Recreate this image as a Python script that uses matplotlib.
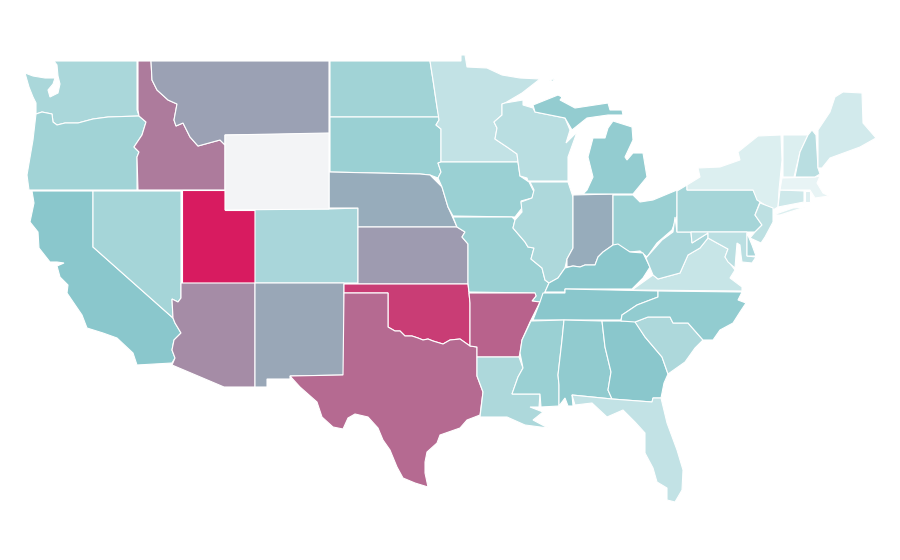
import numpy as np
import matplotlib
matplotlib.use('Agg')
import matplotlib.pyplot as plt
from matplotlib.colors import LinearSegmentedColormap, Normalize
from matplotlib.patches import Polygon

# state values, nan = no data
states = ['WA', 'OR', 'CA', 'NV', 'ID', 'MT', 'UT', 'AZ', 'CO', 'NM',
          'ND', 'SD', 'NE', 'KS', 'OK', 'TX', 'MN', 'IA', 'MO', 'AR',
          'LA', 'WI', 'IL', 'IN', 'MI', 'OH', 'KY', 'TN', 'MS', 'AL',
          'GA', 'FL', 'SC', 'NC', 'VA', 'WV', 'PA', 'NY', 'NJ', 'MD',
          'DE', 'CT', 'RI', 'MA', 'VT', 'NH', 'ME', 'WY']
values = [34, 39, 50, 37, 72, 61, 100, 67.5, 35, 59.5,
          39, 42, 58, 63, 90, 77, 23, 42, 42, 79.5,
          33, 27, 33, 58, 45.5, 42, 50, 50, 42, 46.5,
          50, 23, 33, 46, 20, 35, 37, 10, 25, 26,
          35, 16.5, 9, 4, 10, 27, 14.5, np.nan]

# outlines in picture pixels (map projection already applied)
outlines = {
    'WA': [[(54, 61), (137, 61), (137, 110), (139, 116), (108, 117), (93, 119), (78, 123), (65, 123), (57, 125),
            (53, 122), (52, 114), (42, 112), (36, 114), (36, 103), (33, 97), (29, 87), (25, 73), (33, 76), (45, 78),
            (55, 78), (53, 84), (48, 90), (50, 97), (58, 93), (60, 84), (58, 76), (57, 65)]],
    'OR': [[(36, 114), (42, 112), (52, 114), (53, 122), (57, 125), (65, 123), (78, 123), (93, 119), (108, 117),
            (139, 116), (146, 122), (142, 135), (134, 147), (139, 152), (137, 157), (137, 190), (29, 190), (27, 175),
            (33, 140)]],
    'CA': [[(32, 191), (93, 191), (93, 247), (173, 318), (175, 323), (181, 333), (174, 340), (172, 350), (175, 358),
            (172, 363), (137, 365), (133, 353), (117, 338), (103, 333), (87, 328), (82, 315), (67, 293), (68, 285),
            (60, 277), (57, 266), (64, 263), (57, 262), (50, 262), (39, 248), (38, 232), (30, 222), (34, 203)]],
    'NV': [[(93, 191), (181, 191), (181, 298), (178, 302), (172, 299), (173, 318), (93, 247)]],
    'ID': [[(138, 61), (151, 61), (152, 80), (157, 90), (168, 100), (177, 104), (174, 120), (176, 126), (183, 123),
            (190, 137), (198, 146), (220, 140), (225, 145), (225, 190), (138, 190), (137, 157), (139, 152), (134, 147),
            (142, 135), (146, 122), (139, 116), (138, 110)]],
    'MT': [[(151, 61), (329, 61), (329, 134), (225, 135), (225, 145), (220, 140), (198, 146), (190, 137), (183, 123),
            (176, 126), (174, 120), (177, 104), (168, 100), (157, 90), (152, 80)]],
    'UT': [[(182, 190), (225, 190), (225, 210), (255, 210), (255, 283), (182, 283)]],
    'AZ': [[(181, 283), (255, 283), (255, 387), (224, 387), (172, 365), (175, 358), (172, 350), (174, 340), (181, 333),
            (175, 323), (173, 318), (172, 299), (178, 302), (181, 298)]],
    'CO': [[(255, 209), (329, 209), (358, 208), (358, 283), (255, 283)]],
    'NM': [[(255, 283), (344, 283), (344, 375), (290, 376), (290, 379), (267, 379), (267, 387), (255, 387)]],
    'ND': [[(330, 61), (430, 61), (433, 80), (437, 107), (439, 117), (330, 117)]],
    'SD': [[(330, 117), (439, 117), (439, 120), (436, 125), (441, 129), (441, 162), (438, 163), (441, 172), (438, 178),
            (430, 175), (420, 174), (330, 172)]],
    'NE': [[(329, 172), (420, 174), (430, 175), (442, 187), (448, 207), (457, 227), (358, 227), (358, 208),
            (329, 208)]],
    'KS': [[(358, 227), (457, 227), (465, 232), (462, 237), (468, 244), (468, 284), (358, 284)]],
    'OK': [[(344, 284), (468, 284), (469, 293), (470, 303), (470, 346), (460, 339), (450, 340), (443, 344), (433, 341),
            (428, 339), (423, 340), (418, 338), (412, 336), (405, 336), (400, 331), (395, 331), (388, 327), (388, 293),
            (344, 293)]],
    'TX': [[(344, 293), (388, 293), (388, 327), (395, 331), (400, 331), (405, 336), (412, 336), (418, 338), (423, 340),
            (428, 339), (433, 341), (443, 344), (450, 340), (460, 339), (470, 346), (477, 347), (477, 376), (483, 392),
            (480, 415), (467, 420), (460, 428), (440, 435), (437, 443), (427, 452), (425, 462), (425, 473), (428, 487),
            (415, 483), (403, 478), (397, 467), (390, 450), (383, 440), (378, 428), (368, 417), (355, 414), (348, 418),
            (343, 429), (333, 427), (322, 417), (317, 402), (300, 387), (290, 376), (343, 375)]],
    'MN': [[(430, 61), (461, 61), (461, 55), (465, 55), (467, 67), (487, 68), (502, 75), (520, 78), (540, 79), (522, 93),
            (505, 103), (502, 104), (502, 115), (494, 122), (497, 128), (495, 139), (507, 147), (517, 154), (518, 162),
            (441, 162), (441, 129), (436, 125), (439, 120), (437, 107), (433, 80)]],
    'IA': [[(441, 162), (518, 162), (520, 176), (529, 182), (534, 192), (532, 198), (521, 201), (522, 208), (515, 217),
            (453, 216), (448, 207), (442, 187), (438, 178), (441, 172), (438, 163)]],
    'MO': [[(453, 217), (512, 217), (515, 220), (513, 228), (525, 242), (528, 247), (534, 248), (531, 259), (542, 268),
            (545, 280), (549, 283), (545, 292), (540, 302), (532, 301), (536, 296), (535, 293), (469, 292), (468, 283),
            (468, 244), (462, 237), (465, 232), (457, 227)]],
    'AR': [[(469, 293), (535, 293), (536, 296), (532, 301), (540, 302), (530, 322), (522, 340), (520, 353), (519, 357),
            (477, 357), (477, 347), (470, 346), (470, 303)]],
    'LA': [[(477, 357), (519, 357), (523, 368), (518, 377), (512, 394), (540, 394), (539, 407), (530, 407), (543, 412),
            (533, 420), (548, 428), (525, 425), (507, 417), (490, 417), (480, 417), (483, 392), (477, 376)]],
    'WI': [[(505, 103), (523, 100), (523, 105), (533, 108), (535, 112), (565, 118), (570, 130), (566, 143), (577, 132),
            (568, 157), (568, 181), (528, 181), (527, 178), (520, 176), (518, 162), (517, 154), (507, 147), (495, 139),
            (497, 128), (494, 122), (502, 115), (502, 104)]],
    'IL': [[(530, 182), (568, 182), (573, 197), (573, 248), (567, 259), (565, 268), (558, 278), (549, 283), (545, 280),
            (542, 268), (531, 259), (534, 248), (528, 247), (525, 242), (513, 228), (515, 220), (522, 212), (521, 202),
            (532, 198), (534, 190)]],
    'IN': [[(573, 195), (613, 194), (613, 245), (603, 252), (598, 257), (595, 265), (585, 265), (580, 267), (573, 266),
            (567, 267), (567, 259), (573, 248)]],
    'MI': [[(583, 194), (633, 194), (647, 177), (643, 153), (633, 153), (627, 160), (625, 157), (633, 140), (632, 127),
            (613, 121), (608, 128), (605, 138), (593, 138), (588, 157), (593, 177), (587, 190)],
           [(533, 105), (558, 95), (562, 97), (568, 90), (560, 100), (575, 108), (608, 103), (610, 110), (622, 110),
            (623, 115), (608, 115), (587, 118), (572, 130), (565, 118), (535, 112)],
           [(549, 81), (555, 78), (553, 81)]],
    'OH': [[(613, 195), (633, 195), (640, 202), (653, 200), (677, 190), (677, 216), (672, 230), (657, 243), (647, 257),
            (640, 251), (630, 252), (613, 245)]],
    'KY': [[(549, 283), (558, 278), (565, 268), (573, 266), (580, 267), (585, 265), (595, 265), (598, 257), (603, 252),
            (613, 245), (618, 244), (630, 252), (643, 253), (650, 267), (643, 278), (632, 289), (565, 289), (565, 292),
            (545, 292)]],
    'TN': [[(543, 293), (565, 293), (565, 289), (658, 291), (658, 297), (637, 305), (622, 315), (621, 320), (533, 320),
            (540, 302)]],
    'MS': [[(531, 321), (564, 320), (562, 340), (558, 375), (559, 385), (559, 406), (541, 407), (540, 394), (512, 394),
            (518, 377), (523, 368), (520, 353), (522, 340)]],
    'AL': [[(564, 320), (602, 321), (605, 347), (611, 372), (608, 390), (612, 399), (572, 395), (573, 406), (568, 406),
            (565, 398), (559, 406), (559, 385), (558, 375), (562, 340)]],
    'GA': [[(602, 321), (635, 321), (645, 337), (662, 357), (668, 374), (664, 383), (661, 398), (653, 398), (652, 402),
            (612, 399), (608, 390), (611, 372), (605, 347)]],
    'FL': [[(572, 395), (612, 399), (652, 402), (653, 398), (661, 398), (667, 423), (677, 450), (683, 470), (682, 490),
            (675, 502), (667, 500), (667, 488), (657, 482), (653, 468), (645, 453), (645, 433), (635, 422), (623, 410),
            (607, 417), (592, 403), (575, 405)]],
    'SC': [[(635, 322), (648, 317), (670, 317), (673, 323), (688, 323), (703, 340), (695, 348), (685, 362), (668, 374),
            (662, 357), (645, 337)]],
    'NC': [[(658, 291), (742, 292), (738, 300), (746, 303), (740, 312), (733, 323), (720, 330), (713, 340), (703, 340),
            (688, 323), (673, 323), (670, 317), (648, 317), (635, 322), (621, 321), (622, 315), (637, 305), (658, 297)]],
    'VA': [[(632, 290), (653, 275), (658, 279), (680, 273), (688, 255), (700, 248), (708, 238), (717, 243), (728, 249),
            (725, 257), (735, 270), (730, 278), (742, 287), (742, 291)]],
    'WV': [[(675, 217), (677, 232), (691, 232), (692, 243), (708, 233), (708, 238), (700, 248), (688, 255), (680, 273),
            (658, 279), (653, 275), (646, 258), (662, 240), (673, 232)]],
    'PA': [[(677, 191), (687, 185), (687, 190), (753, 190), (760, 202), (755, 215), (762, 225), (755, 232), (677, 232)]],
    'NY': [[(687, 185), (700, 177), (698, 168), (720, 167), (740, 160), (738, 152), (758, 136), (781, 135), (782, 160),
            (779, 190), (778, 207), (773, 210), (757, 200), (753, 190), (687, 190)],
           [(773, 215), (793, 208), (805, 207), (780, 215)]],
    'NJ': [[(760, 203), (773, 208), (773, 222), (765, 237), (761, 243), (750, 238), (755, 232), (762, 225), (755, 215)]],
    'MD': [[(691, 232), (747, 232), (747, 256), (756, 257), (752, 263), (742, 262), (741, 255), (740, 245), (737, 243),
            (736, 255), (735, 268), (728, 262), (725, 257), (728, 249), (717, 243), (708, 238), (708, 233), (692, 243)]],
    'DE': [[(747, 233), (752, 245), (756, 256), (747, 256)]],
    'CT': [[(780, 190), (804, 191), (804, 202), (778, 207)]],
    'RI': [[(805, 191), (810, 191), (810, 202), (805, 202)]],
    'MA': [[(782, 178), (815, 177), (820, 176), (817, 183), (823, 193), (829, 196), (815, 198), (810, 190), (780, 190)]],
    'VT': [[(783, 135), (808, 135), (800, 152), (794, 177), (783, 177), (783, 160)]],
    'NH': [[(812, 130), (816, 135), (818, 168), (820, 174), (815, 177), (795, 177), (800, 152), (808, 135)]],
    'ME': [[(818, 130), (830, 112), (835, 97), (843, 92), (862, 93), (863, 123), (876, 138), (860, 147), (830, 158),
            (822, 168), (818, 168)]],
    'WY': [[(225, 135), (329, 133), (329, 209), (225, 210)]],
}

cmap = LinearSegmentedColormap.from_list('state_scale', ['#f0f8f9', '#8ac8cc', '#d81b60'])
cmap.set_bad('#f3f4f6')
norm = Normalize(vmin=0, vmax=100)

fig = plt.figure(figsize=(9, 5.6), dpi=100)
ax = fig.add_axes([0, 0, 1, 1])
ax.set_xlim(0, 900)
ax.set_ylim(560, 0)
ax.axis('off')

for state, value in zip(states, values):
    color = cmap(norm(np.ma.masked_invalid(value)))
    for ring in outlines[state]:
        ax.add_patch(Polygon(ring, closed=True, facecolor=color, edgecolor='white', linewidth=0.8))

fig.savefig('out.png', dpi=100)
